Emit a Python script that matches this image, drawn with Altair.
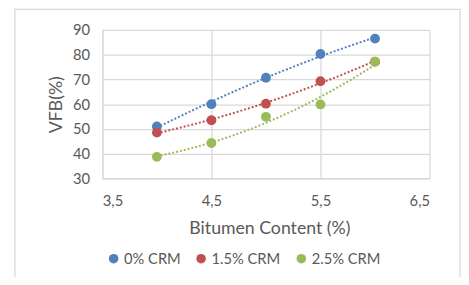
import altair as alt
import pandas as pd

bitumen = [4.0, 4.5, 5.0, 5.5, 6.0]
series_names = ["0% CRM", "1.5% CRM", "2.5% CRM"]
vfb_0 = [51.0, 60.0, 70.7, 80.3, 86.5]
vfb_15 = [48.5, 53.5, 60.2, 69.3, 77.2]
vfb_25 = [38.7, 44.3, 54.9, 59.9, 77.1]
colors = ["#4F81BD", "#C0504D", "#9BBB59"]

rows = []
for name, vals in zip(series_names, [vfb_0, vfb_15, vfb_25]):
    for xv, yv in zip(bitumen, vals):
        rows.append({"x": xv, "y": yv, "series": name})
df = pd.DataFrame(rows)

FONT = "Lato"
TXT = "#595959"
GRID = "#D9D9D9"

color = alt.Color(
    "series:N",
    scale=alt.Scale(domain=series_names, range=colors),
    legend=alt.Legend(
        title=None, orient="none", direction="horizontal",
        legendX=4, legendY=225, symbolType="circle", symbolSize=95,
        symbolStrokeWidth=0, labelFontSize=15, labelFont=FONT, labelColor=TXT,
        columnPadding=13, labelOffset=3,
    ),
)

xs = alt.X("x:Q", scale=alt.Scale(domain=[3.5, 6.5], nice=False, zero=False),
           axis=alt.Axis(values=[3.5, 4.5, 5.5, 6.5], title="Bitumen Content (%)",
                         labelExpr="replace(format(datum.value, '.1f'), '.', ',')",
                         ticks=False, labelPadding=16, titlePadding=11, titleX=170))
ys = alt.Y("y:Q", scale=alt.Scale(domain=[30, 90], nice=False, zero=False),
           axis=alt.Axis(values=[30, 40, 50, 60, 70, 80, 90], title="VFB(%)",
                         ticks=False, labelPadding=13, titlePadding=7))

base = alt.Chart(df)

trend = base.transform_regression(
    "x", "y", method="poly", order=2, groupby=["series"]
).mark_line(strokeDash=[2, 2], strokeWidth=2).encode(x=xs, y=ys, color=color)

points = base.mark_circle(size=100, opacity=1).encode(x=xs, y=ys, color=color)

border = alt.Chart(pd.DataFrame({"a": [0]})).mark_rect(
    fill=None, stroke=GRID, strokeWidth=1.3, clip=False
).encode(x=alt.value(-89), x2=alt.value(364), y=alt.value(-21), y2=alt.value(275))

chart = alt.layer(border, trend, points).properties(
    width=333, height=151,
    autosize=alt.AutoSizeParams(type="none"),
    padding={"left": 96, "top": 20, "right": 32, "bottom": 98},
).configure_view(stroke=None).configure_axis(
    grid=True, gridColor=GRID, gridWidth=1.3, domainColor=GRID, domainWidth=1.3,
    labelFont=FONT, labelFontSize=15, labelColor=TXT,
    titleFont=FONT, titleFontSize=18, titleColor=TXT, titleFontWeight="normal",
)

chart.save("out.html", embed_options={"renderer": "svg", "actions": False})
